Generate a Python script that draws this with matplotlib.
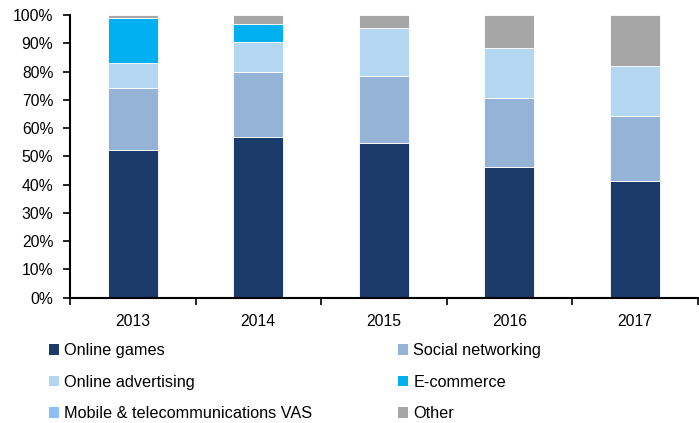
import matplotlib
matplotlib.use("Agg")
import matplotlib.pyplot as plt
from matplotlib.patches import Patch
import numpy as np

years = ["2013", "2014", "2015", "2016", "2017"]
series_names = ["Online games", "Social networking", "Online advertising",
                "E-commerce", "Mobile & telecommunications VAS", "Other"]
online_games = [52.4, 56.8, 54.6, 46.2, 41.3]
social_networking = [21.9, 23.1, 23.8, 24.4, 23.0]
online_advertising = [8.6, 10.7, 17.0, 17.8, 17.8]
e_commerce = [16.1, 6.3, 0.0, 0.0, 0.0]
mobile_vas = [0.0, 0.0, 0.0, 0.0, 0.0]
other = [1.0, 3.1, 4.6, 11.6, 17.9]
ytick_vals = list(range(0, 101, 10))

colors = ["#1B3C6A", "#95B3D7", "#B4D7F1", "#00B0F0", "#8DBEF5", "#A6A6A6"]
series = [online_games, social_networking, online_advertising, e_commerce, mobile_vas, other]

plt.rcParams["font.family"] = ["Liberation Sans", "DejaVu Sans"]

fig = plt.figure(figsize=(6.99, 4.23), dpi=100)
W, H = 699, 423
ax = fig.add_axes([70 / W, 1 - 297.7 / H, (697.7 - 70) / W, (297.7 - 15) / H])

x = np.arange(len(years)) + 0.5
bottom = np.zeros(len(years))
for vals, c, name in zip(series, colors, series_names):
    v = np.array(vals)
    ax.bar(x, v, width=0.4, bottom=bottom, color=c, edgecolor="white",
           linewidth=0.6, label=name)
    bottom += v

ax.set_xlim(0, len(years))
ax.set_ylim(0, 100)
ax.set_yticks(ytick_vals)
ax.set_yticklabels([f"{v}%" for v in ytick_vals], fontsize=11.3)
ax.set_xticks(np.arange(len(years) + 1))
ax.set_xticklabels([])
ax.set_xticks(x, minor=True)
ax.set_xticklabels(years, minor=True, fontsize=11.3)
ax.tick_params(axis="x", which="minor", length=0, pad=12)
ax.tick_params(axis="x", which="major", length=5, width=1.2, direction="out")
ax.tick_params(axis="y", length=5, width=1.2, direction="out", pad=7)
for s in ["top", "right"]:
    ax.spines[s].set_visible(False)
for s in ["left", "bottom"]:
    ax.spines[s].set_linewidth(1.5)
    ax.spines[s].set_color("black")

handles = [Patch(facecolor=c, edgecolor="none") for c in colors]
fs = 11.7
common = dict(frameon=False, fontsize=fs, handlelength=0.62, handleheight=0.62,
              handletextpad=0.32, borderpad=0, borderaxespad=0, labelspacing=1.02,
              loc="upper left")
leg1 = fig.legend([handles[0], handles[2], handles[4]],
                  [series_names[0], series_names[2], series_names[4]],
                  bbox_to_anchor=(49 / W, 1 - 343 / H), **common)
leg2 = fig.legend([handles[1], handles[3], handles[5]],
                  [series_names[1], series_names[3], series_names[5]],
                  bbox_to_anchor=(398 / W, 1 - 343 / H), **common)

fig.savefig("out.png", dpi=100)
